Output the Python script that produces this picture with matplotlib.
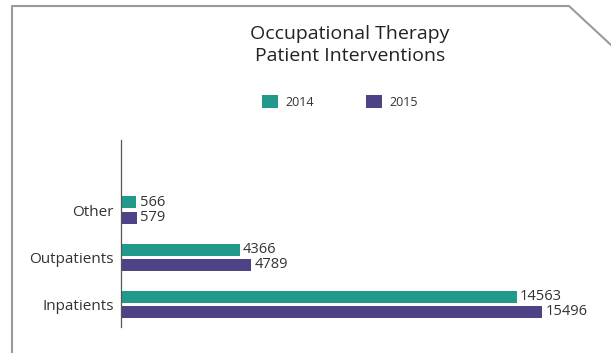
import matplotlib
matplotlib.use("Agg")
import matplotlib.pyplot as plt
from matplotlib.lines import Line2D
from matplotlib.patches import Patch

categories = ["Inpatients", "Outpatients", "Other"]
values_2014 = [14563, 4366, 566]
values_2015 = [15496, 4789, 579]
series_labels = ["2014", "2015"]

color_2014 = "#229a8a"
color_2015 = "#4e4386"
text_color = "#333333"
font = ["Open Sans", "DejaVu Sans"]

W, H = 611, 353
fig = plt.figure(figsize=(W / 100, H / 100), dpi=100)
fig.patch.set_facecolor("white")

# Panel outline with clipped top-right corner
frame = Line2D([12 / W, 12 / W, 569 / W, 1.0],
               [0, 1 - 6 / H, 1 - 6 / H, 1 - 45 / H],
               transform=fig.transFigure, color="#9a9a9a", lw=1.5)
fig.add_artist(frame)

# Axes area in pixels: x 121..600, y 140..327 (top-down)
ax = fig.add_axes([121 / W, 1 - 327 / H, (600 - 121) / W, (327 - 140) / H])
ax.set_xlim(0, (600 - 121) / 0.02717)
ax.set_ylim(-0.483, 3.49)

pos = list(range(len(categories)))
off = 0.163
bh = 0.255
ax.barh([p + off for p in pos], values_2014, height=bh, color=color_2014)
ax.barh([p - off for p in pos], values_2015, height=bh, color=color_2015)

for p, v in zip(pos, values_2014):
    ax.annotate(f"{v}", (v, p + off), xytext=(2.5, 0), textcoords="offset points",
                va="center", ha="left", fontsize=10.5, color=text_color, family=font)
for p, v in zip(pos, values_2015):
    ax.annotate(f"{v}", (v, p - off), xytext=(2.5, 0), textcoords="offset points",
                va="center", ha="left", fontsize=10.5, color=text_color, family=font)

ax.set_yticks(pos)
ax.set_yticklabels(categories, fontsize=11, color=text_color, family=font)
ax.tick_params(axis="y", length=0, pad=5)
ax.set_xticks([])
for s in ["top", "right", "bottom"]:
    ax.spines[s].set_visible(False)
ax.spines["left"].set_color("#555555")
ax.spines["left"].set_linewidth(0.9)

fig.text(350 / W, 1 - 45 / H, "Occupational Therapy\nPatient Interventions",
         ha="center", va="center", fontsize=14, color="#222222",
         family=font, linespacing=1.35)

handles = [Patch(facecolor=color_2014), Patch(facecolor=color_2015)]
fig.legend(handles, series_labels, loc="center", bbox_to_anchor=(340 / W, 1 - 102 / H),
           ncol=2, frameon=False, prop={"family": font, "size": 9},
           handlelength=1.25, handleheight=1.25, columnspacing=4.2, handletextpad=0.6)
for t in fig.legends[0].get_texts():
    t.set_color(text_color)

fig.savefig("out.png", dpi=100, facecolor="white")
